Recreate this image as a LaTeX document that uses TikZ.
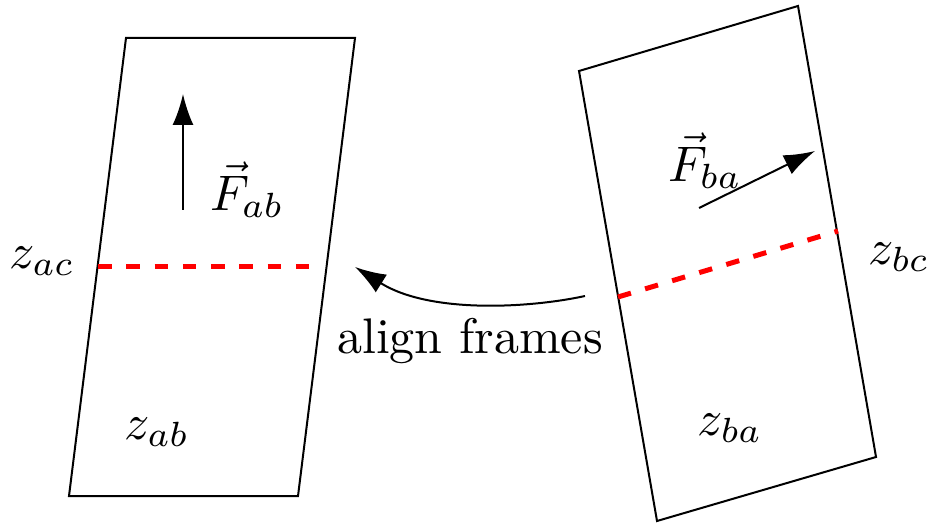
\documentclass[tikz,border=0pt]{standalone}
\usetikzlibrary{arrows.meta}
\begin{document}
\begin{tikzpicture}[x=0.2pt,y=-0.2pt,
  frame/.style={draw=black,line width=0.4pt,line join=miter},
  sep/.style={draw=red,line width=1pt,dash pattern=on 2.7pt off 2.95pt},
  force/.style={draw=black,line width=0.4pt,-{Latex[length=6.2pt,width=4.2pt]}},
  lab/.style={inner sep=0pt,anchor=center}]
\useasboundingbox (0,0) rectangle (928,529);
% left frame
\coordinate (a1) at (126,38);
\coordinate (a2) at (355,38);
\coordinate (a3) at (298,496);
\coordinate (a4) at (69,496);
\draw[frame] (a1) -- (a2) -- (a3) -- (a4) -- cycle;
\coordinate (sa1) at (98,267);
\coordinate (sa2) at (314,267);
\draw[sep] (sa1) -- (sa2);
\coordinate (fa0) at (183,210);
\coordinate (fa1) at (183,94);
\draw[force] (fa0) -- (fa1);
\node[lab] (Fab) at (247,190) {$\vec{F}_{ab}$};
\node[lab] (zac) at (42,261) {$z_{ac}$};
\node[lab] (zab) at (157,432) {$z_{ab}$};
% right frame
\coordinate (b1) at (579,71);
\coordinate (b2) at (798,6);
\coordinate (b3) at (876,457);
\coordinate (b4) at (657,521);
\draw[frame] (b1) -- (b2) -- (b3) -- (b4) -- cycle;
\coordinate (sb1) at (618,297);
\coordinate (sb2) at (838,231);
\draw[sep] (sb1) -- (sb2);
\coordinate (fb0) at (699,208);
\coordinate (fb1) at (815,151);
\draw[force] (fb0) -- (fb1);
\node[lab] (Fba) at (705,161) {$\vec{F}_{ba}$};
\node[lab] (zbc) at (899,257) {$z_{bc}$};
\node[lab] (zba) at (730,428) {$z_{ba}$};
% align arrow
\coordinate (c0) at (585,296);
\coordinate (c1) at (355,267);
\draw[force] (c0) .. controls (530,308) and (430,314) .. (c1);
\node[lab] (align) at (470,341) {align frames};
\end{tikzpicture}
\end{document}
